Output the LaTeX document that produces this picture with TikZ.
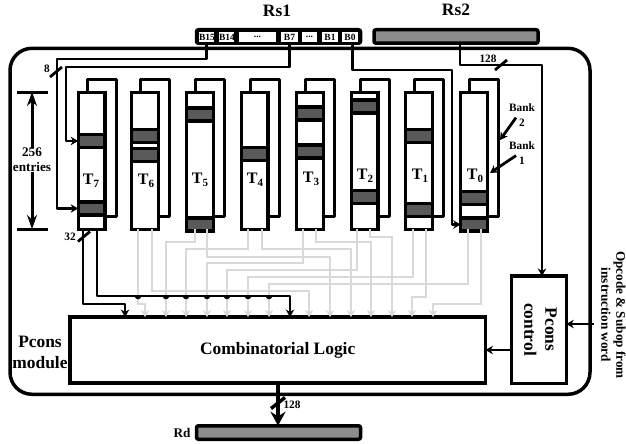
\documentclass[tikz,border=0pt]{standalone}
\usepackage{fontspec}
\setmainfont{Liberation Serif}
\usetikzlibrary{arrows.meta,calc}
\definecolor{bargrey}{RGB}{89,89,89}
\definecolor{reggrey}{RGB}{140,140,140}
\definecolor{wiregrey}{RGB}{217,217,217}
\newcommand{\tsub}[1]{\raisebox{-3.5pt}{\fontsize{11}{11}\selectfont #1}}
\newcommand{\regdots}{...}
\begin{document}
\begin{tikzpicture}[
  x=1pt, y=-1pt,
  tbl/.style={rectangle, draw=black, fill=white, line width=3.3pt,
    minimum width=26.7pt, minimum height=136.7pt, inner sep=0pt, outer sep=0pt},
  bar/.style={rectangle, draw=black, fill=bargrey, line width=3.3pt,
    minimum width=26.7pt, minimum height=13pt, inner sep=0pt, outer sep=0pt},
  bank/.style={line width=3pt, line join=round},
  reg/.style={rectangle, rounded corners=2pt, draw=black, line width=3.5pt,
    minimum width=164pt, minimum height=13.5pt, inner sep=0pt, outer sep=0pt},
  cell/.style={rectangle, fill=white, minimum height=9.5pt, inner sep=0pt,
    font=\bfseries\fontsize{9.5}{9.5}\selectfont},
  blockbox/.style={rectangle, draw=black, fill=white, line width=3.3pt,
    inner sep=0pt, outer sep=0pt, align=center},
  big/.style={inner sep=0pt, align=center, font=\bfseries\fontsize{17.4}{21}\selectfont},
  mid/.style={inner sep=0pt, align=center, font=\bfseries\fontsize{13.2}{15}\selectfont},
  small/.style={inner sep=0pt, align=center, font=\bfseries\fontsize{11.3}{15}\selectfont},
  tname/.style={inner sep=0pt, font=\bfseries\fontsize{16}{16}\selectfont},
  arr/.style={-{Stealth[length=7.5pt,width=8.5pt]}, line width=2.8pt, line join=round},
  dimarr/.style={-{Stealth[length=14pt,width=10pt]}, line width=3pt},
  greyarr/.style={-{Stealth[length=7pt,width=8.5pt]}, line width=2.7pt, wiregrey},
  tick/.style={line width=2.8pt}
]
\useasboundingbox (0,0) rectangle (626,444);
\node[rectangle, draw=black, line width=3.5pt, rounded corners=22pt, outer sep=0pt,
  minimum width=580pt, minimum height=346pt] (pmodule) at (300,221.3) {};
\node[big] (rsone) at (277,11) {Rs1};
\node[big] (rstwo) at (456,10) {Rs2};
\node[reg, fill=black] (regone) at (278.5,36.5) {};
\node[reg, fill=reggrey] (regtwo) at (456,36.5) {};
\node[reg, fill=reggrey] (regd) at (278.5,432.5) {};
\node[mid] (rd) at (182,433) {Rd};
\foreach \c/\x/\w/\t in {b15/206.5/15/B15, b14/226.5/15/B14, bd1/257.5/37/\regdots, b7/289.5/17/B7,
    bd2/309.5/15/\regdots, b1/330/16/B1, b0/350/16/B0}
  \node[cell, minimum width=\w pt, text width=\w pt, align=center] (\c) at (\x,37) {\t};
\node[blockbox, minimum width=415.5pt, minimum height=66pt,
  font=\bfseries\fontsize{17.4}{21}\selectfont] (logic) at (277.7,350) {Combinatorial Logic};
\node[blockbox, minimum width=54.6pt, minimum height=107.3pt] (pcons) at (539,329.6) {};
\foreach \n/\x in {t7/91.5,t6/145,t5/200,t4/254.7,t3/310,t2/364.7,t1/419,t0/474} {
  \node[tbl] (\n) at (\x,161) {};
  \draw[bank] ([xshift=-4.5pt]\n.north) -- ++(0,-13) -- ++(29,0) -- ++(0,137.2) -- ++(-10,0);
}
\foreach \t/\n/\y in {t7/t7a/141,t7/t7b/208.5,t6/t6a/136,t6/t6b/155,t5/t5a/114.5,t5/t5b/224.5,t4/t4a/154,
    t3/t3a/113.5,t3/t3b/151.5,t2/t2a/106.5,t2/t2b/197,t1/t1a/136,t1/t1b/210,t0/t0a/198,t0/t0b/224.5}
  \node[bar] (\n) at (\t |- 0,\y) {};
\foreach \t/\s/\hy/\dx in {t6/138/304/145, t6/152/291/309, t5/195/242/166, t5/207/257/330,
    t4/248/249/186, t4/262/249/351, t3/303/263/207, t3/316/242/371, t2/357/270/227,
    t2/370/237/392, t1/413/277/248, t1/426/297/412, t0/468/284/269, t0/481/304/433}
  \draw[greyarr] (\s,0 |- \t.south) -- (\s,\hy) -- (\dx,\hy) -- (\dx,0 |- logic.north);
\node[tname] (t7n) at (91,181) {T\tsub{7}};
\node[tname] (t6n) at (146,181) {T\tsub{6}};
\node[tname] (t5n) at (200,180) {T\tsub{5}};
\node[tname] (t4n) at (255,180) {T\tsub{4}};
\node[tname] (t3n) at (311,179) {T\tsub{3}};
\node[tname] (t2n) at (365,176) {T\tsub{2}};
\node[tname] (t1n) at (420,176) {T\tsub{1}};
\node[tname] (t0n) at (475,176) {T\tsub{0}};
\draw[arr] (b15.south) |- (57,59) |- (t7b.west);
\draw[arr] (b7.south) |- (66,67) |- (t7a.west);
\draw[arr] ([xshift=2.5pt]b0.south) |- (452,70) |- (t0b.west);
\draw[arr] ([xshift=4pt]regtwo.south) |- (542,65) -- (542,0 |- pcons.north);
\draw[arr] ([xshift=-8.5pt]t7.south) |- (125,304) -- (125,0 |- logic.north);
\draw[arr] ([xshift=5.5pt]t7.south) |- (290,296) -- (290,0 |- logic.north);
\foreach \x in {138,166,186,207,227,248,269}
  \draw[line width=2pt, fill=black] (\x-2.2,296) arc (180:0:2.2);
\coordinate (opcode) at (594,324);
\draw[arr] (opcode) -- (opcode -| pcons.east);
\draw[arr] (pcons.west |- logic.east) -- (logic.east);
\draw[-{Stealth[length=14pt,width=15pt]}, line width=3.3pt] (278,0 |- logic.south) -- (278,0 |- regd.north);
\node[big, rotate=-90] (pconstxt) at (540.5,329.5) {Pcons\\control};
\node[big] (pmodtxt) at (40,352) {Pcons\\module};
\node[mid, rotate=-90] (optxt) at (613.5,315) {Opcode \& Subop from\\instruction word};
\node[mid] (entries) at (32,160) {256\\entries};
\coordinate (dimtop) at (32,92);
\coordinate (dimbot) at (32,229);
\draw[dimarr] (entries.north) -- (dimtop);
\draw[dimarr] (entries.south) -- (dimbot);
\draw[line width=3pt] ([xshift=-15.5pt]dimtop) -- ([xshift=15.5pt]dimtop);
\draw[line width=3pt] ([xshift=-15.5pt]dimbot) -- ([xshift=15.5pt]dimbot);
\coordinate (tickb) at (56,72);
\coordinate (tickc) at (84,236.5);
\coordinate (ticka) at (501,65);
\coordinate (tickd) at (278,402.5);
\draw[tick] (tickb) ++(-6,5) -- ++(12,-10);
\draw[tick] (tickc) ++(-6,5) -- ++(12,-10);
\draw[tick] (ticka) ++(-6,5) -- ++(12,-10);
\draw[tick, line width=3.5pt] (tickd) ++(-7,6) -- ++(14,-11);
\node[small] (eightl) at (47,69) {8};
\node[small] (thirtyl) at (70,237) {32};
\node[small] (oneaa) at (488,59) {128};
\node[small] (onebb) at (292,405) {128};
\node[small] (banktwo) at (522,115) {Bank\\2};
\node[small] (bankone) at (522,153) {Bank\\1};
\coordinate (banktwotip) at (500,140);
\coordinate (bankonetip) at (490,173);
\draw[arr] ([shift={(-6pt,9pt)}]banktwo.south) -- (banktwotip);
\draw[arr] ([shift={(-6pt,9pt)}]bankone.south) -- (bankonetip);
\end{tikzpicture}
\end{document}
